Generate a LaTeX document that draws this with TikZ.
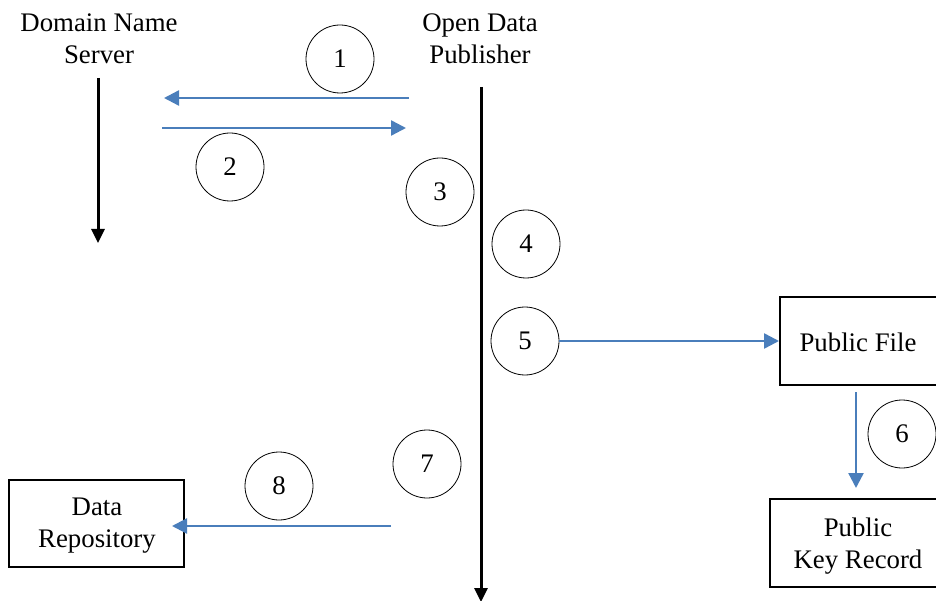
\documentclass[tikz,border=0pt]{standalone}
\usepackage{fontspec}
\setmainfont{Liberation Serif}
\usetikzlibrary{arrows.meta}
\definecolor{flowblue}{HTML}{4A7EBB}
\begin{document}
\begin{tikzpicture}[x=1pt,y=-1pt,
  every node/.style={font=\fontsize{26.8}{32}\selectfont, inner sep=0pt},
  label/.style={align=center},
  stepnum/.style={circle, draw, line width=0.8pt, minimum size=68pt},
  entity/.style={draw, line width=2pt},
  timeline/.style={line width=3pt, -{Triangle[length=14pt,width=13pt]}},
  flow/.style={draw=flowblue, line width=2.4pt, -{Triangle[length=15pt,width=15pt]}, color=flowblue}]
\useasboundingbox (0,0) rectangle (936,601);
% headers
\node[label] (dns) at (99,39) {Domain Name\\Server};
\node[label] (odp) at (480,39) {Open Data\\Publisher};
% timelines
\coordinate (dnsTop) at (98,78);
\coordinate (dnsBot) at (98,243);
\coordinate (odpTop) at (481,87);
\coordinate (odpBot) at (481,602);
\draw[timeline] (dnsTop) -- (dnsBot);
\draw[timeline] (odpTop) -- (odpBot);
% step circles
\node[stepnum] (s1) at (340,59) {1};
\node[stepnum] (s2) at (230,167) {2};
\node[stepnum] (s3) at (440,192) {3};
\node[stepnum] (s4) at (526,244) {4};
\node[stepnum] (s5) at (525,341) {5};
\node[stepnum] (s6) at (902,434) {6};
\node[stepnum] (s7) at (427,464) {7};
\node[stepnum] (s8) at (279,486) {8};
% boxes
\node[entity, minimum width=158pt, minimum height=87pt] (pf) at (859,341) {};
\node[label] (pft) at (858,342) {Public File};
\node[entity, minimum width=176pt, minimum height=88pt] (pkr) at (858,543) {};
\node[label] (pkrt) at (858,546) {Public\\Key Record};
\node[entity, minimum width=175pt, minimum height=87pt] (dr) at (96.5,523.5) {};
\node[label] (drt) at (97,526) {Data\\Repository};
% flow coordinates
\coordinate (a1s) at (409,98);
\coordinate (a1e) at (164,98);
\coordinate (a2s) at (162,128);
\coordinate (a2e) at (406,128);
\coordinate (a8s) at (391,526);
\coordinate (a8e) at (172,526);
\coordinate (a6s) at (856,392);
\coordinate (a6e) at (856,488);
\draw[flow] (a1s) -- (a1e);
\draw[flow] (a2s) -- (a2e);
\draw[flow] (s5.east) -- (pf.west);
\draw[flow] (a6s) -- (a6e);
\draw[flow] (a8s) -- (a8e);
\end{tikzpicture}
\end{document}
